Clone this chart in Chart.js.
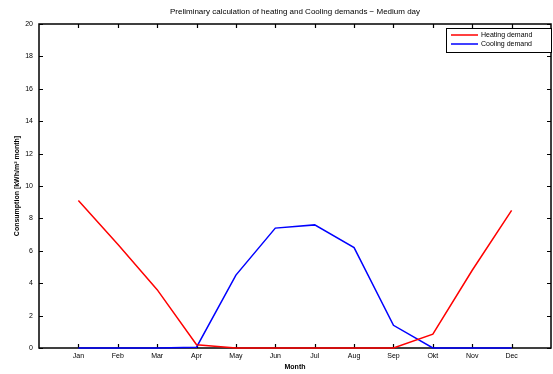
<!DOCTYPE html>
<html>
<head>
<meta charset="utf-8">
<script src="https://cdn.jsdelivr.net/npm/chart.js@4.4.1/dist/chart.umd.min.js"></script>
<style>
  html, body { margin: 0; padding: 0; background: #fff; }
  #wrap { width: 553px; height: 374px; }
</style>
</head>
<body>
<div id="wrap"><canvas id="c"></canvas></div>
<script>
const months = ['Jan', 'Feb', 'Mar', 'Apr', 'May', 'Jun', 'Jul', 'Aug', 'Sep', 'Okt', 'Nov', 'Dec'];
const heating = [9.1, 6.4, 3.6, 0.2, 0, 0, 0, 0, 0, 0.85, 4.8, 8.5];
const cooling = [0, 0, 0, 0.05, 4.5, 7.4, 7.6, 6.2, 1.4, 0, 0, 0];
const yTicks = [0, 2, 4, 6, 8, 10, 12, 14, 16, 18, 20];

const FONT = 'Liberation Sans';

// matlab style: box, ticks pointing in, legend inside upper right
const matlabBox = {
  id: 'matlabBox',
  beforeDatasetsDraw(chart) {
    const { ctx, chartArea: a, scales } = chart;
    ctx.save();
    ctx.strokeStyle = '#000';
    ctx.lineWidth = 1.5;
    ctx.strokeRect(a.left, a.top, a.right - a.left, a.bottom - a.top);
    ctx.lineWidth = 1.2;
    ctx.beginPath();
    months.forEach((m, i) => {
      const x = Math.round(scales.x.getPixelForValue(i + 1)) + 0.5;
      ctx.moveTo(x, a.bottom); ctx.lineTo(x, a.bottom - 4);
      ctx.moveTo(x, a.top); ctx.lineTo(x, a.top + 4);
    });
    yTicks.forEach(v => {
      const y = Math.round(scales.y.getPixelForValue(v)) + 0.5;
      ctx.moveTo(a.left, y); ctx.lineTo(a.left + 4, y);
      ctx.moveTo(a.right, y); ctx.lineTo(a.right - 4, y);
    });
    ctx.stroke();

    // title
    ctx.fillStyle = '#000';
    ctx.font = `8px "${FONT}"`;
    ctx.textAlign = 'center';
    ctx.textBaseline = 'middle';
    ctx.fillText('Preliminary calculation of heating and Cooling demands \u2212 Medium day', (a.left + a.right) / 2, 12);
    ctx.restore();
  },
  afterDraw(chart) {
    const { ctx } = chart;
    ctx.save();
    const lx = 446, ly = 28, lw = 105, lh = 24;
    ctx.fillStyle = '#fff';
    ctx.fillRect(lx, ly, lw, lh);
    ctx.lineWidth = 1;
    ctx.strokeStyle = '#000';
    ctx.strokeRect(lx + 0.5, ly + 0.5, lw, lh);
    ctx.textBaseline = 'middle';
    chart.data.datasets.forEach((ds, i) => {
      const yy = ly + 7 + i * 9;
      ctx.strokeStyle = ds.borderColor;
      ctx.lineWidth = 1.5;
      ctx.beginPath();
      ctx.moveTo(lx + 5, yy); ctx.lineTo(lx + 32, yy);
      ctx.stroke();
      ctx.fillStyle = '#000';
      ctx.font = `7px "${FONT}"`;
      ctx.textAlign = 'left';
      ctx.fillText(ds.label, lx + 35, yy);
    });
    ctx.restore();
  }
};

new Chart(document.getElementById('c'), {
  type: 'line',
  data: {
    datasets: [
      {
        label: 'Heating demand',
        data: heating.map((v, i) => ({ x: i + 1, y: v })),
        borderColor: '#ff0000',
        borderWidth: 1.5,
        pointRadius: 0,
        tension: 0,
        clip: 4
      },
      {
        label: 'Cooling demand',
        data: cooling.map((v, i) => ({ x: i + 1, y: v })),
        borderColor: '#0000ff',
        borderWidth: 1.5,
        pointRadius: 0,
        tension: 0,
        clip: 4
      }
    ]
  },
  options: {
    responsive: true,
    maintainAspectRatio: false,
    animation: false,
    layout: { padding: { top: 24, right: 2, left: 0, bottom: 0 } },
    plugins: { legend: { display: false }, title: { display: false }, tooltip: { enabled: false } },
    scales: {
      x: {
        type: 'linear',
        min: 0,
        max: 13,
        afterBuildTicks: s => { s.ticks = months.map((m, i) => ({ value: i + 1 })); },
        afterFit: s => { s.height = 26; },
        grid: { display: false, drawTicks: false },
        border: { display: false },
        ticks: {
          callback: v => months[v - 1] || '',
          font: { family: FONT, size: 7 },
          color: '#000',
          padding: 4,
          maxRotation: 0,
          autoSkip: false
        },
        title: { display: true, text: 'Month', font: { family: FONT, size: 7, weight: 'bold' }, color: '#000', padding: { top: 0, bottom: 3 } }
      },
      y: {
        min: 0,
        max: 20,
        afterBuildTicks: s => { s.ticks = yTicks.map(v => ({ value: v })); },
        afterFit: s => { s.width = 39; },
        grid: { display: false, drawTicks: false },
        border: { display: false },
        ticks: {
          font: { family: FONT, size: 7 },
          color: '#000',
          padding: 6
        },
        title: { display: true, text: 'Consumption [kWh/m\u00b2 month]', font: { family: FONT, size: 7, weight: 'bold' }, color: '#000', padding: { top: 13, bottom: 4 } }
      }
    }
  },
  plugins: [matlabBox]
});
</script>
</body>
</html>
